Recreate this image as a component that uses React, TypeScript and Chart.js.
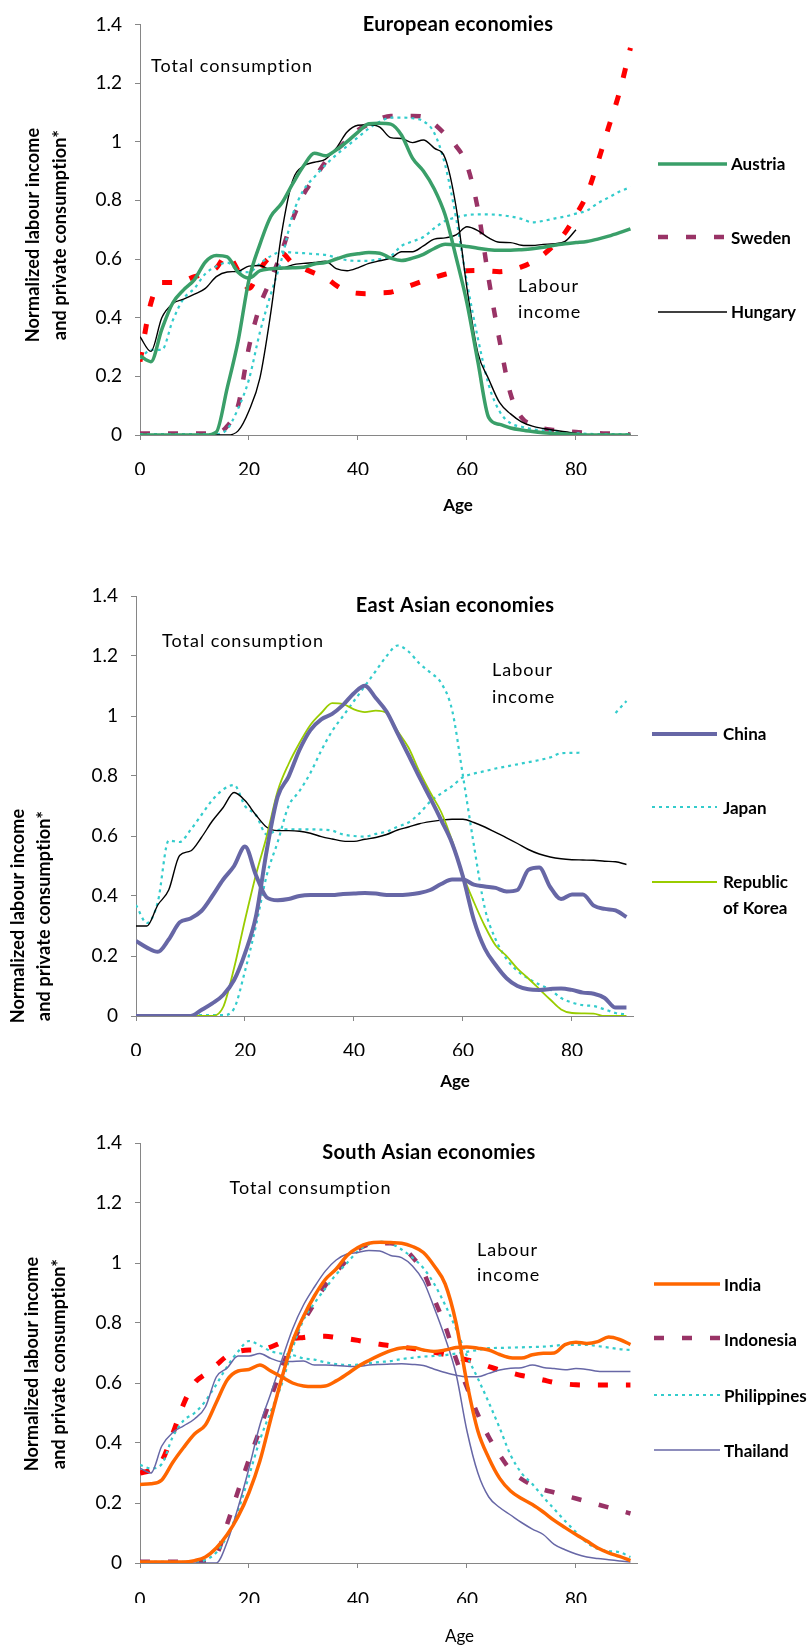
import React, { useEffect, useRef } from "react";
import { Chart, registerables } from "chart.js";

Chart.register(...registerables);

// ---------- shared axes ----------
const AGES = [0, 2, 4, 6, 8, 10, 12, 14, 16, 18, 20, 22, 24, 26, 28, 30, 32, 34, 36, 38, 40, 42, 44, 46, 48, 50, 52, 54, 56, 58, 60, 62, 64, 66, 68, 70, 72, 74, 76, 78, 80, 82, 84, 86, 88, 90];
const X_TICKS = [0, 20, 40, 60, 80];
const Y_TICKS = [0, 0.2, 0.4, 0.6, 0.8, 1, 1.2, 1.4];

// ---------- European economies ----------
const AUSTRIA_LABOUR = [0, 0, 0, 0, 0, 0, 0, 0.01, 0.16, 0.32, 0.53, 0.65, 0.745, 0.79, 0.856, 0.917, 0.961, 0.952, 0.972, 1.0, 1.033, 1.061, 1.063, 1.06, 1.022, 0.944, 0.9, 0.839, 0.75, 0.606, 0.45, 0.25, 0.059, 0.036, 0.024, 0.017, 0.012, 0.008, 0.005, 0.003, 0.002, 0, 0, 0, 0, 0];
const AUSTRIA_CONS = [0.27, 0.25, 0.36, 0.45, 0.495, 0.53, 0.59, 0.612, 0.607, 0.555, 0.535, 0.56, 0.567, 0.569, 0.57, 0.572, 0.583, 0.588, 0.6, 0.612, 0.618, 0.622, 0.62, 0.603, 0.595, 0.603, 0.616, 0.636, 0.65, 0.648, 0.643, 0.637, 0.632, 0.63, 0.63, 0.632, 0.635, 0.64, 0.647, 0.652, 0.656, 0.66, 0.668, 0.678, 0.69, 0.703];
const SWEDEN_LABOUR = [0.005, 0.005, 0.005, 0.005, 0.005, 0.005, 0.005, 0.005, 0.03, 0.1, 0.3, 0.44, 0.53, 0.625, 0.735, 0.82, 0.875, 0.93, 0.97, 1.005, 1.04, 1.06, 1.078, 1.088, 1.088, 1.088, 1.085, 1.06, 1.025, 0.985, 0.92, 0.77, 0.53, 0.32, 0.14, 0.06, 0.035, 0.022, 0.017, 0.013, 0.01, 0.008, 0.006, 0.005, 0.003, 0.002];
const SWEDEN_CONS = [0.25, 0.45, 0.52, 0.52, 0.525, 0.54, 0.55, 0.57, 0.615, 0.56, 0.5, 0.565, 0.61, 0.62, 0.585, 0.568, 0.552, 0.538, 0.51, 0.49, 0.483, 0.482, 0.485, 0.487, 0.498, 0.512, 0.525, 0.537, 0.548, 0.556, 0.56, 0.561, 0.559, 0.557, 0.562, 0.573, 0.59, 0.615, 0.648, 0.69, 0.75, 0.82, 0.93, 1.05, 1.17, 1.32];
const HUNGARY_LABOUR = [0, 0, 0, 0, 0, 0, 0, 0, 0, 0.014, 0.083, 0.194, 0.417, 0.689, 0.867, 0.917, 0.93, 0.94, 0.978, 1.033, 1.056, 1.058, 1.05, 1.014, 1.011, 0.997, 1.006, 0.978, 0.944, 0.778, 0.5, 0.28, 0.19, 0.11, 0.072, 0.045, 0.03, 0.022, 0.016, 0.011, 0.005, 0, 0, 0, 0, 0];
const HUNGARY_CONS = [0.335, 0.285, 0.4, 0.448, 0.463, 0.48, 0.5, 0.54, 0.556, 0.558, 0.576, 0.578, 0.564, 0.567, 0.58, 0.585, 0.588, 0.593, 0.567, 0.56, 0.57, 0.585, 0.594, 0.603, 0.625, 0.625, 0.645, 0.668, 0.672, 0.682, 0.71, 0.697, 0.672, 0.657, 0.656, 0.647, 0.646, 0.65, 0.652, 0.66, 0.7, null, null, null, null, null];
const EU_OTHER_LABOUR = [0.003, 0.003, 0.003, 0.003, 0.003, 0.003, 0.003, 0.003, 0.02, 0.09, 0.19, 0.35, 0.48, 0.6, 0.75, 0.835, 0.88, 0.92, 0.955, 0.985, 1.015, 1.045, 1.068, 1.082, 1.082, 1.08, 1.07, 1.03, 0.92, 0.74, 0.52, 0.33, 0.17, 0.08, 0.04, 0.028, 0.02, 0.015, 0.012, 0.009, 0.006, 0.004, 0.003, 0.003, 0.003, 0.003];
const EU_OTHER_CONS = [0.26, 0.29, 0.29, 0.39, 0.465, 0.5, 0.55, 0.575, 0.588, 0.56, 0.555, 0.585, 0.61, 0.625, 0.622, 0.62, 0.617, 0.614, 0.605, 0.596, 0.594, 0.594, 0.6, 0.61, 0.645, 0.66, 0.675, 0.705, 0.73, 0.742, 0.75, 0.752, 0.752, 0.75, 0.745, 0.737, 0.725, 0.73, 0.738, 0.745, 0.755, 0.765, 0.79, 0.81, 0.83, 0.845];

// ---------- East Asian economies ----------
const CHINA_LABOUR = [0, 0, 0, 0, 0, 0, 0.02, 0.042, 0.07, 0.12, 0.209, 0.331, 0.553, 0.731, 0.798, 0.887, 0.953, 0.989, 1.007, 1.037, 1.076, 1.101, 1.06, 1.014, 0.942, 0.87, 0.796, 0.726, 0.653, 0.576, 0.464, 0.32, 0.225, 0.17, 0.126, 0.1, 0.089, 0.087, 0.09, 0.092, 0.087, 0.078, 0.074, 0.06, 0.028, 0.028];
const CHINA_CONS = [0.25, 0.228, 0.214, 0.255, 0.312, 0.325, 0.35, 0.4, 0.455, 0.5, 0.565, 0.47, 0.395, 0.386, 0.39, 0.4, 0.403, 0.403, 0.403, 0.407, 0.408, 0.41, 0.408, 0.403, 0.403, 0.405, 0.41, 0.42, 0.44, 0.455, 0.455, 0.438, 0.432, 0.427, 0.415, 0.42, 0.487, 0.495, 0.43, 0.39, 0.405, 0.405, 0.368, 0.357, 0.352, 0.33];
const JAPAN_LABOUR = [0.003, 0.003, 0.003, 0.003, 0.003, 0.003, 0.003, 0.003, 0.003, 0.025, 0.15, 0.3, 0.47, 0.58, 0.7, 0.75, 0.81, 0.885, 0.95, 1.0, 1.05, 1.1, 1.15, 1.2, 1.235, 1.215, 1.175, 1.145, 1.11, 1.02, 0.8, 0.57, 0.36, 0.255, 0.19, 0.15, 0.125, 0.105, 0.088, 0.06, 0.045, 0.036, 0.033, 0.022, 0.01, 0.005];
const JAPAN_CONS = [0.37, 0.31, 0.38, 0.585, 0.58, 0.62, 0.67, 0.72, 0.755, 0.77, 0.7, 0.67, 0.605, 0.62, 0.622, 0.622, 0.622, 0.621, 0.618, 0.605, 0.6, 0.598, 0.607, 0.615, 0.631, 0.645, 0.675, 0.715, 0.742, 0.766, 0.796, 0.808, 0.816, 0.825, 0.832, 0.839, 0.846, 0.853, 0.862, 0.876, 0.877, 0.878, null, null, 1.01, 1.05];
const KOREA_LABOUR = [0, 0, 0, 0, 0, 0, 0, 0, 0.03, 0.16, 0.32, 0.47, 0.6, 0.75, 0.84, 0.91, 0.97, 1.01, 1.043, 1.04, 1.022, 1.013, 1.018, 1.01, 0.95, 0.895, 0.815, 0.745, 0.68, 0.585, 0.47, 0.38, 0.3, 0.235, 0.2, 0.158, 0.125, 0.09, 0.055, 0.022, 0.01, 0.009, 0.008, 0, 0, 0];
const KOREA_CONS = [0.3, 0.3, 0.37, 0.42, 0.535, 0.55, 0.595, 0.65, 0.695, 0.745, 0.718, 0.67, 0.629, 0.618, 0.618, 0.616, 0.609, 0.598, 0.59, 0.583, 0.582, 0.589, 0.595, 0.605, 0.62, 0.63, 0.641, 0.648, 0.653, 0.656, 0.656, 0.645, 0.63, 0.612, 0.594, 0.575, 0.555, 0.54, 0.53, 0.524, 0.521, 0.52, 0.519, 0.516, 0.514, 0.505];

// ---------- South Asian economies ----------
const INDIA_LABOUR = [0.003, 0.003, 0.003, 0.003, 0.003, 0.008, 0.02, 0.05, 0.095, 0.155, 0.235, 0.34, 0.48, 0.615, 0.738, 0.822, 0.89, 0.945, 0.98, 1.025, 1.052, 1.066, 1.069, 1.068, 1.066, 1.055, 1.035, 0.99, 0.93, 0.8, 0.6, 0.44, 0.35, 0.282, 0.24, 0.215, 0.195, 0.17, 0.142, 0.118, 0.095, 0.073, 0.05, 0.034, 0.022, 0.008];
const INDIA_CONS = [0.262, 0.264, 0.277, 0.335, 0.385, 0.43, 0.46, 0.535, 0.61, 0.64, 0.645, 0.66, 0.64, 0.62, 0.6, 0.59, 0.588, 0.59, 0.607, 0.63, 0.655, 0.675, 0.693, 0.708, 0.717, 0.718, 0.71, 0.705, 0.71, 0.718, 0.72, 0.716, 0.71, 0.695, 0.684, 0.683, 0.694, 0.699, 0.7, 0.728, 0.736, 0.732, 0.738, 0.753, 0.745, 0.728];
const INDONESIA_LABOUR = [0.004, 0.004, 0.004, 0.004, 0.004, 0.004, 0.004, 0.025, 0.13, 0.24, 0.345, 0.445, 0.55, 0.65, 0.735, 0.805, 0.865, 0.925, 0.97, 1.01, 1.045, 1.062, 1.066, 1.066, 1.055, 1.02, 0.97, 0.88, 0.79, 0.68, 0.585, 0.495, 0.42, 0.36, 0.31, 0.28, 0.26, 0.245, 0.235, 0.225, 0.215, 0.205, 0.195, 0.185, 0.175, 0.165];
const INDONESIA_CONS = [0.3, 0.31, 0.34, 0.43, 0.53, 0.6, 0.63, 0.66, 0.69, 0.705, 0.71, 0.71, 0.72, 0.735, 0.747, 0.752, 0.756, 0.756, 0.752, 0.748, 0.742, 0.735, 0.729, 0.724, 0.719, 0.715, 0.708, 0.702, 0.695, 0.686, 0.677, 0.668, 0.655, 0.643, 0.634, 0.625, 0.618, 0.61, 0.602, 0.597, 0.594, 0.593, 0.593, 0.593, 0.593, 0.593];
const PHILIPPINES_LABOUR = [0.004, 0.004, 0.004, 0.004, 0.004, 0.004, 0.01, 0.035, 0.09, 0.175, 0.29, 0.41, 0.505, 0.595, 0.716, 0.81, 0.866, 0.915, 0.962, 1.0, 1.04, 1.062, 1.071, 1.065, 1.045, 1.018, 0.983, 0.93, 0.86, 0.78, 0.69, 0.615, 0.535, 0.45, 0.36, 0.3, 0.263, 0.22, 0.18, 0.14, 0.103, 0.068, 0.047, 0.04, 0.036, 0.02];
const PHILIPPINES_CONS = [0.327, 0.315, 0.33, 0.42, 0.475, 0.5, 0.54, 0.595, 0.655, 0.705, 0.74, 0.725, 0.706, 0.698, 0.693, 0.682, 0.678, 0.669, 0.663, 0.66, 0.661, 0.666, 0.67, 0.673, 0.68, 0.684, 0.688, 0.69, 0.693, 0.698, 0.704, 0.71, 0.716, 0.717, 0.718, 0.719, 0.72, 0.721, 0.724, 0.727, 0.727, 0.727, 0.723, 0.718, 0.713, 0.71];
const THAILAND_LABOUR = [0, 0, 0, 0, 0, 0, 0, 0, 0.07, 0.185, 0.316, 0.46, 0.565, 0.675, 0.78, 0.86, 0.92, 0.973, 1.01, 1.03, 1.035, 1.042, 1.04, 1.025, 1.018, 0.99, 0.94, 0.85, 0.75, 0.63, 0.44, 0.3, 0.22, 0.185, 0.16, 0.135, 0.113, 0.095, 0.062, 0.044, 0.03, 0.02, 0.015, 0.011, 0.007, 0.003];
const THAILAND_CONS = [0.316, 0.3, 0.39, 0.435, 0.457, 0.48, 0.52, 0.62, 0.65, 0.69, 0.69, 0.698, 0.682, 0.671, 0.672, 0.673, 0.66, 0.66, 0.658, 0.656, 0.655, 0.66, 0.662, 0.663, 0.664, 0.662, 0.658, 0.646, 0.635, 0.626, 0.621, 0.621, 0.632, 0.643, 0.649, 0.651, 0.66, 0.652, 0.648, 0.644, 0.648, 0.645, 0.639, 0.638, 0.638, 0.638];

// ---------- styles ----------
type LineStyle = { color: string; width: number; dash: number[] };
const GREEN: LineStyle = { color: "#3a9f69", width: 3.5, dash: [] };
const PURPLE_DASH: LineStyle = { color: "#993366", width: 4.5, dash: [10, 18] };
const RED_DASH: LineStyle = { color: "#ff0000", width: 5, dash: [10, 18] };
const BLACK: LineStyle = { color: "#000000", width: 1.4, dash: [] };
const CYAN_DOT: LineStyle = { color: "#33cccc", width: 2.2, dash: [3, 4] };
const SLATE_THICK: LineStyle = { color: "#6767a6", width: 4, dash: [] };
const SLATE_THIN: LineStyle = { color: "#6767a6", width: 1.5, dash: [] };
const LIME: LineStyle = { color: "#99cc00", width: 1.8, dash: [] };
const ORANGE: LineStyle = { color: "#ff6600", width: 3.5, dash: [] };

const FONT = "Lato, 'Open Sans', sans-serif";
const AXIS_GREY = "#868686";
const X_AXIS_H = 40;

type Series = { values: (number | null)[]; style: LineStyle };
type LegendItem = { lines: string[]; lineY: number; textY: number; lineGap?: number; style: LineStyle };
type PanelSpec = {
  top: number;
  height: number;
  area: { left: number; right: number; top: number; bottom: number };
  xMax: number;
  xTickPad: number;
  series: Series[];
  title: { text: string; x: number; y: number };
  total: { x: number; y: number };
  labour: { x: number; y1: number; y2: number };
  legend: { x1: number; x2: number; textX: number; items: LegendItem[] };
  yTitle: { x1: number; x2: number; y: number };
  age: { x: number; y: number; bold: boolean };
};

const PANELS: PanelSpec[] = [
  {
    top: 0,
    height: 550,
    area: { left: 140, right: 637, top: 15, bottom: 435 },
    xMax: 91.2,
    xTickPad: 18,
    series: [
      { values: AUSTRIA_LABOUR, style: GREEN },
      { values: AUSTRIA_CONS, style: GREEN },
      { values: HUNGARY_LABOUR, style: BLACK },
      { values: HUNGARY_CONS, style: BLACK },
      { values: EU_OTHER_LABOUR, style: CYAN_DOT },
      { values: EU_OTHER_CONS, style: CYAN_DOT },
      { values: SWEDEN_LABOUR, style: PURPLE_DASH },
      { values: SWEDEN_CONS, style: RED_DASH },
    ],
    title: { text: "European economies", x: 458, y: 25 },
    total: { x: 151, y: 66 },
    labour: { x: 518, y1: 286, y2: 312 },
    legend: {
      x1: 658,
      x2: 727,
      textX: 731,
      items: [
        { lines: ["Austria"], lineY: 164, textY: 165, style: GREEN },
        { lines: ["Sweden"], lineY: 237, textY: 239, style: PURPLE_DASH },
        { lines: ["Hungary"], lineY: 312, textY: 313, style: BLACK },
      ],
    },
    yTitle: { x1: 33, x2: 60, y: 235 },
    age: { x: 458, y: 506, bold: true },
  },
  {
    top: 550,
    height: 550,
    area: { left: 136, right: 633, top: 46, bottom: 466 },
    xMax: 91.2,
    xTickPad: 18,
    series: [
      { values: CHINA_LABOUR, style: SLATE_THICK },
      { values: CHINA_CONS, style: SLATE_THICK },
      { values: KOREA_LABOUR, style: LIME },
      { values: KOREA_CONS, style: BLACK },
      { values: JAPAN_LABOUR, style: CYAN_DOT },
      { values: JAPAN_CONS, style: CYAN_DOT },
    ],
    title: { text: "East Asian economies", x: 455, y: 55.5 },
    total: { x: 162, y: 91.5 },
    labour: { x: 492, y1: 120, y2: 147 },
    legend: {
      x1: 652,
      x2: 717,
      textX: 723,
      items: [
        { lines: ["China"], lineY: 184, textY: 185, style: SLATE_THICK },
        { lines: ["Japan"], lineY: 257, textY: 259, style: CYAN_DOT },
        { lines: ["Republic", "of Korea"], lineY: 332, textY: 333, lineGap: 25.5, style: LIME },
      ],
    },
    yTitle: { x1: 18, x2: 44.5, y: 366 },
    age: { x: 455, y: 532, bold: true },
  },
  {
    top: 1100,
    height: 548,
    area: { left: 140, right: 637, top: 43, bottom: 463 },
    xMax: 91.2,
    xTickPad: 20,
    series: [
      { values: INDIA_LABOUR, style: ORANGE },
      { values: INDIA_CONS, style: ORANGE },
      { values: THAILAND_LABOUR, style: SLATE_THIN },
      { values: THAILAND_CONS, style: SLATE_THIN },
      { values: PHILIPPINES_LABOUR, style: CYAN_DOT },
      { values: PHILIPPINES_CONS, style: CYAN_DOT },
      { values: INDONESIA_LABOUR, style: PURPLE_DASH },
      { values: INDONESIA_CONS, style: RED_DASH },
    ],
    title: { text: "South Asian economies", x: 429, y: 53 },
    total: { x: 229.5, y: 88.5 },
    labour: { x: 477, y1: 150, y2: 175 },
    legend: {
      x1: 654,
      x2: 720,
      textX: 724,
      items: [
        { lines: ["India"], lineY: 184, textY: 185.5, style: ORANGE },
        { lines: ["Indonesia"], lineY: 238, textY: 240.5, style: PURPLE_DASH },
        { lines: ["Philippines"], lineY: 295, textY: 297, style: CYAN_DOT },
        { lines: ["Thailand"], lineY: 350, textY: 351.5, style: SLATE_THIN },
      ],
    },
    yTitle: { x1: 32, x2: 59.5, y: 264 },
    age: { x: 459.5, y: 536.5, bold: false },
  },
];

function text(
  ctx: CanvasRenderingContext2D,
  s: string,
  x: number,
  y: number,
  font: string,
  align: CanvasTextAlign,
  spacing = 0
) {
  ctx.save();
  ctx.font = font;
  ctx.fillStyle = "#000";
  ctx.textAlign = align;
  ctx.textBaseline = "middle";
  (ctx as any).letterSpacing = spacing + "px";
  ctx.fillText(s, x, y);
  ctx.restore();
}

function rotated(ctx: CanvasRenderingContext2D, s: string, x: number, y: number) {
  ctx.save();
  ctx.font = `bold 18px ${FONT}`;
  ctx.fillStyle = "#000";
  ctx.textAlign = "center";
  ctx.textBaseline = "middle";
  (ctx as any).letterSpacing = "0.2px";
  ctx.translate(x, y);
  ctx.rotate(-Math.PI / 2);
  ctx.fillText(s, 0, 0);
  ctx.restore();
}

function makeTextPlugin(spec: PanelSpec) {
  return {
    id: "panelText",
    afterDraw(chart: Chart) {
      const ctx = chart.ctx;
      text(ctx, spec.title.text, spec.title.x, spec.title.y, `bold 20px ${FONT}`, "center", 0.3);
      text(ctx, "Total consumption", spec.total.x, spec.total.y, `18px ${FONT}`, "left", 1);
      text(ctx, "Labour", spec.labour.x, spec.labour.y1, `18px ${FONT}`, "left", 1);
      text(ctx, "income", spec.labour.x, spec.labour.y2, `18px ${FONT}`, "left", 1);
      text(ctx, "Age", spec.age.x, spec.age.y, `${spec.age.bold ? "bold " : ""}17px ${FONT}`, "center");

      // legend
      const lg = spec.legend;
      lg.items.forEach((it) => {
        ctx.save();
        ctx.strokeStyle = it.style.color;
        ctx.lineWidth = it.style.width;
        ctx.setLineDash(it.style.dash);
        ctx.lineCap = "butt";
        ctx.beginPath();
        ctx.moveTo(lg.x1, it.lineY);
        ctx.lineTo(lg.x2, it.lineY);
        ctx.stroke();
        ctx.restore();
        it.lines.forEach((ln, k) => {
          text(ctx, ln, lg.textX, it.textY + k * (it.lineGap || 0), `bold 17px ${FONT}`, "left");
        });
      });

      // rotated y title
      rotated(ctx, "Normalized labour income", spec.yTitle.x1, spec.yTitle.y);
      rotated(ctx, "and private consumption*", spec.yTitle.x2, spec.yTitle.y);
    },
  };
}

function Panel({ spec }: { spec: PanelSpec }) {
  const ref = useRef<HTMLCanvasElement>(null);
  useEffect(() => {
    const canvas = ref.current;
    if (!canvas) return;
    const a = spec.area;
    const gridCfg = {
      display: true,
      drawOnChartArea: false,
      drawTicks: true,
      tickLength: 5,
      color: AXIS_GREY,
      lineWidth: 1,
    };
    const chart = new Chart(canvas, {
      type: "line",
      data: {
        datasets: spec.series.map((s) => ({
          data: AGES.map((x, i) => ({ x, y: s.values[i] })),
          borderColor: s.style.color,
          backgroundColor: s.style.color,
          borderWidth: s.style.width,
          borderDash: s.style.dash,
          borderCapStyle: "butt",
          borderJoinStyle: "round",
          pointRadius: 0,
          pointHoverRadius: 0,
          fill: false,
          tension: 0.4,
          cubicInterpolationMode: "monotone",
          spanGaps: false,
        })) as any,
      },
      options: {
        animation: false,
        responsive: false,
        maintainAspectRatio: false,
        events: [],
        layout: {
          padding: {
            left: 0,
            top: a.top,
            right: 808 - a.right,
            bottom: spec.height - a.bottom - X_AXIS_H,
          },
        },
        plugins: {
          legend: { display: false },
          tooltip: { enabled: false },
          title: { display: false },
        },
        scales: {
          x: {
            type: "linear",
            min: 0,
            max: spec.xMax,
            afterBuildTicks: (s: any) => {
              s.ticks = X_TICKS.map((v) => ({ value: v }));
            },
            afterFit: (s: any) => {
              s.height = X_AXIS_H;
            },
            ticks: {
              autoSkip: false,
              maxRotation: 0,
              padding: spec.xTickPad,
              color: "#000",
              font: { family: FONT, size: 19 },
              callback: (v: any) => String(v),
            },
            grid: gridCfg,
            border: { display: true, color: AXIS_GREY, width: 1 },
          },
          y: {
            type: "linear",
            min: 0,
            max: 1.4,
            afterBuildTicks: (s: any) => {
              s.ticks = Y_TICKS.map((v) => ({ value: v }));
            },
            afterFit: (s: any) => {
              s.width = a.left;
            },
            ticks: {
              padding: 13,
              color: "#000",
              font: { family: FONT, size: 19 },
              callback: (v: any) => Number(v).toFixed(1).replace(/\.0$/, ""),
            },
            grid: gridCfg,
            border: { display: true, color: AXIS_GREY, width: 1 },
          },
        },
      } as any,
      plugins: [makeTextPlugin(spec) as any],
    });
    return () => chart.destroy();
  }, [spec]);
  return (
    <canvas
      ref={ref}
      width={808}
      height={spec.height}
      style={{ position: "absolute", left: 0, top: spec.top, width: 808, height: spec.height, display: "block" }}
    />
  );
}

export default function App() {
  return (
    <div style={{ position: "absolute", left: 0, top: 0, width: 808, height: 1648, background: "#fff", overflow: "hidden" }}>
      {PANELS.map((p, i) => (
        <Panel key={i} spec={p} />
      ))}
    </div>
  );
}
